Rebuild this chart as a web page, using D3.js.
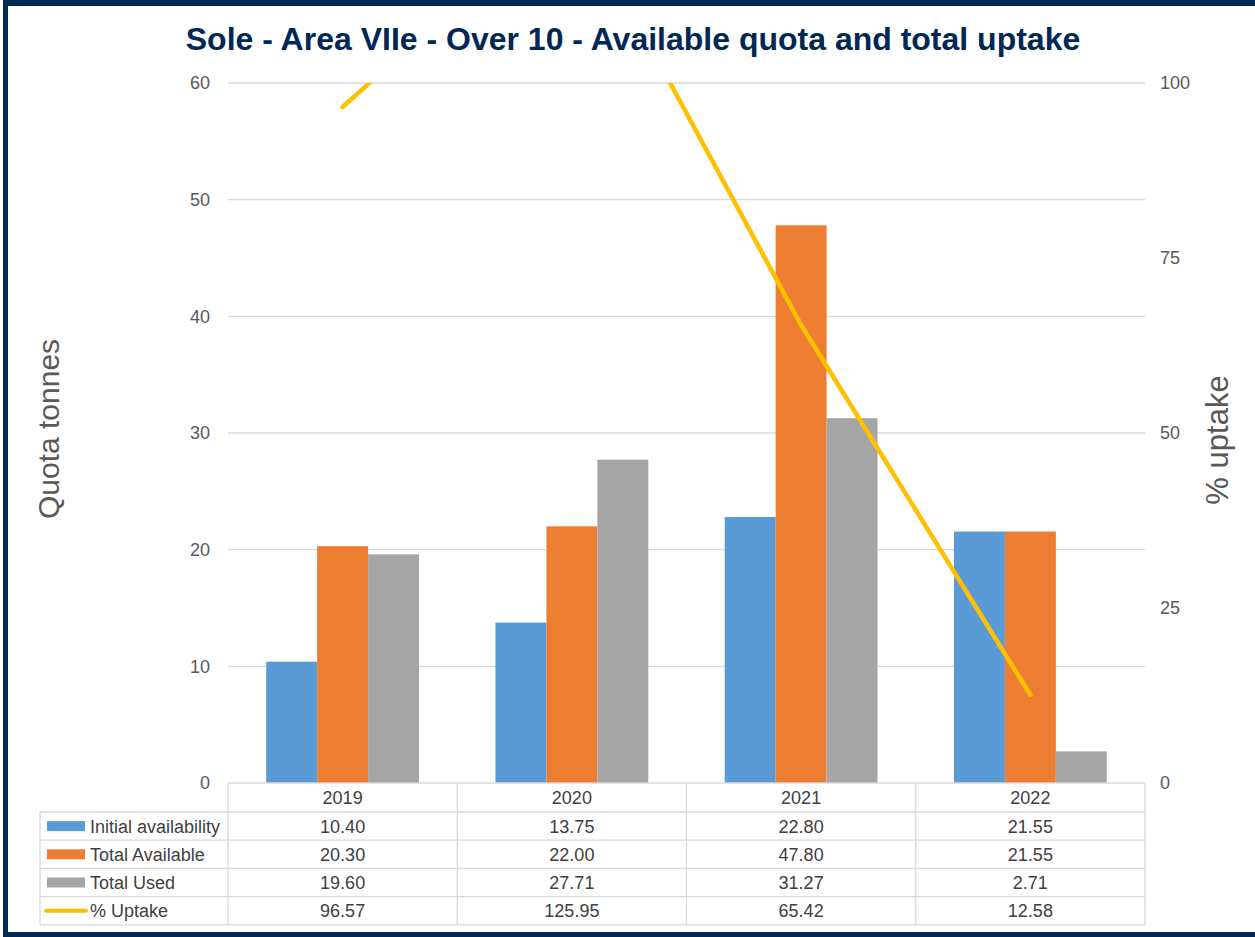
<!DOCTYPE html>
<html>
<head>
<meta charset="utf-8">
<script src="https://cdn.jsdelivr.net/npm/d3@7/dist/d3.min.js"></script>
<style>
  html, body { margin: 0; padding: 0; background: #fff; }
  svg { display: block; font-family: "Liberation Sans", Arial, sans-serif; }
</style>
</head>
<body>
<svg id="chart" width="1255" height="937"></svg>
<script>
// Years shown on the category axis
const years = ["2019", "2020", "2021", "2022"];

// Bar series (quota tonnes)
const initialAvailability = [10.40, 13.75, 22.80, 21.55];
const totalAvailable = [20.30, 22.00, 47.80, 21.55];
const totalUsed = [19.60, 27.71, 31.27, 2.71];

// Line series (% uptake, right axis)
const pctUptake = [96.57, 125.95, 65.42, 12.58];

// Axis ticks
const leftTicks = [0, 10, 20, 30, 40, 50, 60];
const rightTicks = [0, 25, 50, 75, 100];

const barSeries = [
  { name: "Initial availability", values: initialAvailability, color: "#5B9BD5" },
  { name: "Total Available", values: totalAvailable, color: "#ED7D31" },
  { name: "Total Used", values: totalUsed, color: "#A5A5A5" }
];
const lineSeries = { name: "% Uptake", values: pctUptake, color: "#FFC000" };

const svg = d3.select("#chart");
const W = 1255, H = 937;
const plot = { left: 228, right: 1145, top: 83, bottom: 783 };
const navy = "#002855";
const textGray = "#595959";
const tableText = "#404040";
const gridGray = "#D9D9D9";
const fs = 18;

// Frame
svg.append("rect").attr("x", 0).attr("y", 0).attr("width", W).attr("height", H).attr("fill", "#fff");
svg.append("rect").attr("x", 3).attr("y", 0).attr("width", W - 3).attr("height", 6).attr("fill", navy);
svg.append("rect").attr("x", 3).attr("y", 0).attr("width", 5).attr("height", H).attr("fill", navy);
svg.append("rect").attr("x", 3).attr("y", 932).attr("width", W - 3).attr("height", 5).attr("fill", navy);

// Title
svg.append("text")
  .attr("x", 633).attr("y", 50)
  .attr("text-anchor", "middle")
  .attr("font-size", 32).attr("font-weight", "bold")
  .attr("fill", navy)
  .text("Sole - Area VIIe - Over 10 - Available quota and total uptake");

// Scales
const x = d3.scaleBand().domain(years).range([plot.left, plot.right]).paddingInner(0).paddingOuter(0);
const bw = x.bandwidth();
const x1 = d3.scaleBand().domain(barSeries.map(s => s.name)).range([bw * 0.1667, bw * 0.8333]).padding(0);
const yL = d3.scaleLinear().domain([0, 60]).range([plot.bottom, plot.top]);
const yR = d3.scaleLinear().domain([0, 100]).range([plot.bottom, plot.top]);

// Gridlines
svg.append("g").selectAll("line").data(leftTicks.filter(t => t > 0)).join("line")
  .attr("x1", plot.left).attr("x2", plot.right)
  .attr("y1", d => yL(d)).attr("y2", d => yL(d))
  .attr("stroke", gridGray).attr("stroke-width", 1.3);

// Left axis
const gL = svg.append("g").attr("transform", `translate(${plot.left},0)`)
  .call(d3.axisLeft(yL).tickValues(leftTicks).tickSize(0).tickPadding(18));
gL.select(".domain").remove();
gL.selectAll("text").attr("font-size", fs).attr("fill", textGray).attr("font-family", "Liberation Sans, Arial, sans-serif");

// Right axis
const gR = svg.append("g").attr("transform", `translate(${plot.right},0)`)
  .call(d3.axisRight(yR).tickValues(rightTicks).tickSize(0).tickPadding(15));
gR.select(".domain").remove();
gR.selectAll("text").attr("font-size", fs).attr("fill", textGray).attr("font-family", "Liberation Sans, Arial, sans-serif");

// Axis titles
svg.append("text")
  .attr("transform", "translate(59,429) rotate(-90)")
  .attr("text-anchor", "middle").attr("font-size", 30).attr("fill", textGray)
  .text("Quota tonnes");
svg.append("text")
  .attr("transform", "translate(1228,440) rotate(-90)")
  .attr("text-anchor", "middle").attr("font-size", 31).attr("fill", textGray)
  .text("% uptake");

// Bars
const gBars = svg.append("g");
barSeries.forEach(s => {
  gBars.append("g").selectAll("rect").data(years).join("rect")
    .attr("x", (d) => x(d) + x1(s.name))
    .attr("width", x1.bandwidth())
    .attr("y", (d, i) => yL(s.values[i]))
    .attr("height", (d, i) => yL(0) - yL(s.values[i]))
    .attr("fill", s.color);
});

// Uptake line, clipped to the plot area
svg.append("clipPath").attr("id", "plot-clip")
  .append("rect").attr("x", plot.left).attr("y", plot.top)
  .attr("width", plot.right - plot.left).attr("height", plot.bottom - plot.top);
const line = d3.line()
  .x((d, i) => x(years[i]) + bw / 2)
  .y(d => yR(d));
svg.append("path")
  .datum(lineSeries.values)
  .attr("clip-path", "url(#plot-clip)")
  .attr("d", line)
  .attr("fill", "none")
  .attr("stroke", lineSeries.color)
  .attr("stroke-width", 4.5)
  .attr("stroke-linecap", "round")
  .attr("stroke-linejoin", "round");

// Data table
const tbl = { left: 40, top: plot.bottom, header: 29, row: 28.2 };
const rows = barSeries.concat([lineSeries]);
const tableBottom = tbl.top + tbl.header + rows.length * tbl.row;
const gT = svg.append("g");
const fmt = d3.format(".2f");

// horizontal rules
gT.append("line").attr("x1", plot.left).attr("x2", plot.right)
  .attr("y1", tbl.top).attr("y2", tbl.top).attr("stroke", gridGray).attr("stroke-width", 1.3);
d3.range(rows.length + 1).forEach(i => {
  const yy = tbl.top + tbl.header + i * tbl.row;
  gT.append("line").attr("x1", tbl.left).attr("x2", plot.right)
    .attr("y1", yy).attr("y2", yy).attr("stroke", gridGray).attr("stroke-width", 1.3);
});
// vertical rules
years.forEach(yr => {
  gT.append("line").attr("x1", x(yr)).attr("x2", x(yr))
    .attr("y1", tbl.top).attr("y2", tableBottom).attr("stroke", gridGray).attr("stroke-width", 1.3);
});
gT.append("line").attr("x1", plot.right).attr("x2", plot.right)
  .attr("y1", tbl.top).attr("y2", tableBottom).attr("stroke", gridGray).attr("stroke-width", 1.3);
gT.append("line").attr("x1", tbl.left).attr("x2", tbl.left)
  .attr("y1", tbl.top + tbl.header).attr("y2", tableBottom).attr("stroke", gridGray).attr("stroke-width", 1.3);

// year headers
gT.selectAll("text.year").data(years).join("text").attr("class", "year")
  .attr("x", d => x(d) + bw / 2).attr("y", tbl.top + tbl.header / 2 + 6.5)
  .attr("text-anchor", "middle").attr("font-size", fs).attr("fill", tableText)
  .text(d => d);

// series rows
rows.forEach((s, r) => {
  const cy = tbl.top + tbl.header + r * tbl.row + tbl.row / 2;
  if (s === lineSeries) {
    gT.append("line").attr("x1", 46).attr("x2", 86).attr("y1", cy).attr("y2", cy)
      .attr("stroke", s.color).attr("stroke-width", 4).attr("stroke-linecap", "round");
  } else {
    gT.append("rect").attr("x", 47).attr("y", cy - 5).attr("width", 38).attr("height", 10).attr("fill", s.color);
  }
  gT.append("text").attr("x", 90).attr("y", cy + 6.5)
    .attr("font-size", fs).attr("fill", tableText).text(s.name);
  gT.selectAll(null).data(years).join("text")
    .attr("x", d => x(d) + bw / 2).attr("y", cy + 6.5)
    .attr("text-anchor", "middle").attr("font-size", fs).attr("fill", tableText)
    .text((d, i) => fmt(s.values[i]));
});
</script>
</body>
</html>
